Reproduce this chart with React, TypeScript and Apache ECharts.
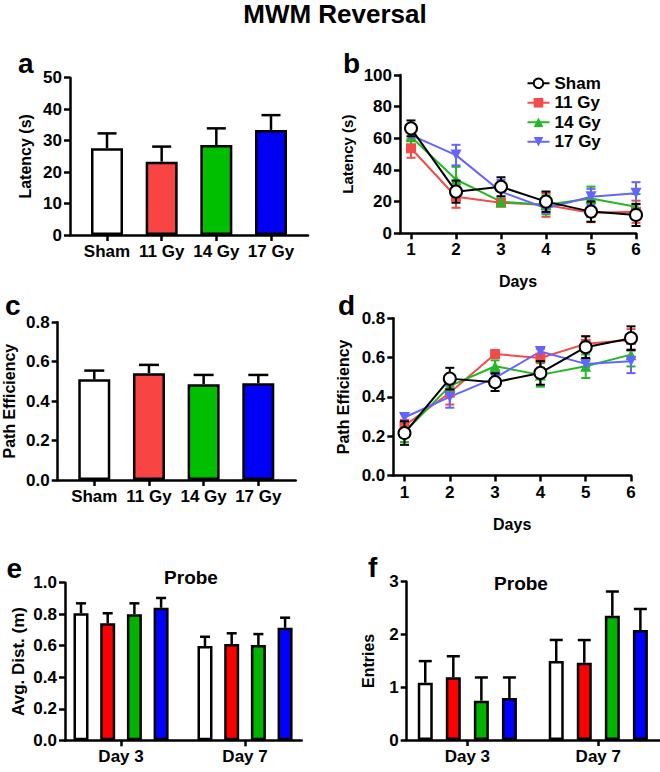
import React, { useEffect, useRef } from 'react';
import * as echarts from 'echarts';

const FONT = '"Liberation Sans", Arial, Helvetica, sans-serif';

// ---------- data ----------
const groups = ['Sham', '11 Gy', '14 Gy', '17 Gy'];
const probeDays = ['Day 3', 'Day 7'];
const days = [1, 2, 3, 4, 5, 6];

const barColorsAC = ['#FFFFFF', '#F94444', '#00BE00', '#0000F4'];
const barColorsEF = ['#FFFFFF', '#FF0000', '#00B400', '#0000FF'];
const lineColors = ['#000000', '#F54A4A', '#22B922', '#6464FF'];

// a: latency (s), mean and SEM per group
const latencyMean = [27.6, 23.3, 28.6, 33.4];
const latencySem = [4.7, 4.8, 5.3, 4.7];

// c: path efficiency per group
const pathEffMean = [0.511, 0.542, 0.486, 0.491];
const pathEffSem = [0.044, 0.042, 0.047, 0.042];

// b: latency by day
const latShamMean = [66.3, 26.3, 29.4, 20.0, 13.7, 11.6];
const latShamSem = [5.0, 7.0, 6.0, 6.4, 6.4, 7.0];
const lat11Mean = [53.7, 23.1, 19.3, 17.9, 13.0, 13.6];
const lat11Sem = [6.0, 7.0, 2.0, 7.5, 6.0, 7.0];
const lat14Mean = [61.0, 34.0, 20.0, 18.0, 22.0, 16.8];
const lat14Sem = [8.0, 8.0, 2.0, 6.0, 7.5, 8.0];
const lat17Mean = [62.0, 49.4, 26.3, 15.8, 23.1, 25.3];
const lat17Sem = [3.0, 6.5, 7.5, 3.0, 5.0, 7.0];

// d: path efficiency by day
const peShamMean = [0.216, 0.493, 0.475, 0.522, 0.653, 0.699];
const peShamSem = [0.06, 0.055, 0.045, 0.06, 0.055, 0.06];
const pe11Mean = [0.253, 0.421, 0.618, 0.598, 0.67, 0.69];
const pe11Sem = [0.03, 0.06, 0.02, 0.05, 0.04, 0.055];
const pe14Mean = [0.22, 0.455, 0.556, 0.512, 0.556, 0.615];
const pe14Sem = [0.05, 0.045, 0.03, 0.06, 0.06, 0.06];
const pe17Mean = [0.295, 0.4, 0.497, 0.631, 0.568, 0.581];
const pe17Sem = [0.02, 0.055, 0.04, 0.015, 0.015, 0.06];

// e: probe avg. distance (m): [Day 3, Day 7] per group
const distSham = [0.806, 0.598];
const distShamSem = [0.063, 0.059];
const dist11 = [0.742, 0.611];
const dist11Sem = [0.064, 0.068];
const dist14 = [0.8, 0.605];
const dist14Sem = [0.069, 0.069];
const dist17 = [0.841, 0.714];
const dist17Sem = [0.062, 0.064];

// f: probe entries: [Day 3, Day 7] per group
const entSham = [1.085, 1.496];
const entShamSem = [0.41, 0.4];
const ent11 = [1.187, 1.464];
const ent11Sem = [0.4, 0.43];
const ent14 = [0.745, 2.354];
const ent14Sem = [0.44, 0.46];
const ent17 = [0.795, 2.083];
const ent17Sem = [0.39, 0.4];

// ---------- helpers ----------
const black = '#000';
const AXIS_W = 2.5;

const axisLine = { show: true, onZero: false, lineStyle: { color: black, width: AXIS_W } };
const tickBase = { show: true, length: 6, lineStyle: { color: black, width: AXIS_W } };
const labelBase = { color: black, fontSize: 17, fontWeight: 'bold', fontFamily: FONT, margin: 8 };
const nameStyle = (size: number) => ({ color: black, fontSize: size, fontWeight: 'bold', fontFamily: FONT });

function upErr(cap: number, offset: number, width = 2.5) {
  return (params: any, api: any) => {
    const x = api.value(0);
    const m = api.value(1);
    const s = api.value(2);
    const p0 = api.coord([x, m]);
    const p1 = api.coord([x, m + s]);
    const cx = p0[0] + offset;
    const style = { stroke: black, lineWidth: width, fill: null };
    return {
      type: 'group',
      children: [
        { type: 'line', shape: { x1: cx, y1: p0[1], x2: cx, y2: p1[1] }, style },
        { type: 'line', shape: { x1: cx - cap / 2, y1: p1[1], x2: cx + cap / 2, y2: p1[1] }, style },
      ],
    };
  };
}

function bothErr(cap: number, color: string) {
  return (params: any, api: any) => {
    const x = api.value(0);
    const m = api.value(1);
    const s = api.value(2);
    const p1 = api.coord([x, m + s]);
    const p2 = api.coord([x, m - s]);
    const style = { stroke: color, lineWidth: 2, fill: null };
    return {
      type: 'group',
      children: [
        { type: 'line', shape: { x1: p1[0], y1: p1[1], x2: p2[0], y2: p2[1] }, style },
        { type: 'line', shape: { x1: p1[0] - cap / 2, y1: p1[1], x2: p1[0] + cap / 2, y2: p1[1] }, style },
        { type: 'line', shape: { x1: p2[0] - cap / 2, y1: p2[1], x2: p2[0] + cap / 2, y2: p2[1] }, style },
      ],
    };
  };
}

function catXAxis(grid: number, min: number, max: number, vals: number[], names: string[]) {
  return {
    gridIndex: grid,
    type: 'value',
    min,
    max,
    axisLine,
    axisTick: { ...tickBase, customValues: vals },
    axisLabel: { ...labelBase, customValues: vals, formatter: (v: number) => names[Math.round(v)] },
    splitLine: { show: false },
  };
}

function dayXAxis(grid: number, min: number, gap: number) {
  return {
    gridIndex: grid,
    type: 'value',
    min,
    max: 6,
    name: 'Days',
    nameLocation: 'middle',
    nameGap: gap,
    nameTextStyle: nameStyle(16),
    axisLine,
    axisTick: { ...tickBase, customValues: days },
    axisLabel: { ...labelBase, customValues: days, formatter: (v: number) => String(Math.round(v)) },
    splitLine: { show: false },
  };
}

function yAx(grid: number, max: number, interval: number, name: string, gap: number, size: number, dec: number) {
  return {
    gridIndex: grid,
    type: 'value',
    min: 0,
    max,
    interval,
    name,
    nameLocation: 'middle',
    nameRotate: 90,
    nameGap: gap,
    nameTextStyle: nameStyle(size),
    axisLine,
    axisTick: tickBase,
    axisLabel: { ...labelBase, formatter: (v: number) => v.toFixed(dec) },
    splitLine: { show: false },
  };
}

export default function App() {
  const ref = useRef<HTMLDivElement>(null);

  useEffect(() => {
    document.body.style.margin = '0';
    const chart = echarts.init(ref.current!, null, { renderer: 'svg' });

    const grids = [
      { left: 70, top: 77.7, width: 238, height: 157.3 }, // a
      { left: 400, top: 75, width: 236, height: 158.3 }, // b
      { left: 57.7, top: 322.3, width: 238, height: 157.7 }, // c
      { left: 393.3, top: 318.3, width: 237.7, height: 157.2 }, // d
      { left: 65, top: 582.7, width: 236.7, height: 157.6 }, // e
      { left: 406.7, top: 581.7, width: 253.3, height: 158.3 }, // f
    ].map((g) => ({ ...g, containLabel: false, outerBoundsMode: 'none' }));

    const xAxis = [
      catXAxis(0, -0.677, 3.677, [0, 1, 2, 3], groups),
      dayXAxis(1, 0.7556, 40),
      catXAxis(2, -0.669, 3.684, [0, 1, 2, 3], groups),
      dayXAxis(3, 0.753, 41),
      catXAxis(4, -0.452, 1.457, [0, 1], probeDays),
      catXAxis(5, -0.463, 1.471, [0, 1], probeDays),
    ];

    const yAxis = [
      yAx(0, 50, 10, 'Latency (s)', 37, 16, 0),
      yAx(1, 100, 20, 'Latency (s)', 45, 15, 0),
      yAx(2, 0.8, 0.2, 'Path Efficiency', 40, 16, 1),
      yAx(3, 0.8, 0.2, 'Path Efficiency', 41.5, 16, 1),
      yAx(4, 1.0, 0.2, 'Avg. Dist. (m)', 38, 17, 1),
      yAx(5, 3, 1, 'Entries', 30, 16, 0),
    ];

    const series: any[] = [];

    // ---- a & c: single-group bars ----
    const singleBars = (grid: number, mean: number[], sem: number[], key: string, cap: number) => {
      series.push({
        type: 'bar',
        name: key + '-bars',
        xAxisIndex: grid,
        yAxisIndex: grid,
        barWidth: 32,
        data: mean.map((v, i) => ({ value: [i, v], itemStyle: { color: barColorsAC[i] } })),
        itemStyle: { borderColor: black, borderWidth: 2.5 },
        z: 3,
      });
      series.push({
        type: 'custom',
        name: key + '-err',
        xAxisIndex: grid,
        yAxisIndex: grid,
        renderItem: upErr(cap, 0),
        data: mean.map((v, i) => [i, v, sem[i]]),
        encode: { x: 0, y: 1 },
        clip: false,
        z: 2,
      });
    };
    singleBars(0, latencyMean, latencySem, 'a', 19);
    singleBars(2, pathEffMean, pathEffSem, 'c', 20);

    // ---- b & d: lines ----
    const symbols = ['circle', 'rect', 'triangle', 'triangle'];
    const symSizes = [12, 10, 11, 11];
    const lineSets = (grid: number, means: number[][], sems: number[][], prefix: string) => {
      means.forEach((m, k) => {
        const color = lineColors[k];
        series.push({
          type: 'custom',
          name: prefix + groups[k] + '-err',
          xAxisIndex: grid,
          yAxisIndex: grid,
          renderItem: bothErr(9, color),
          data: m.map((v, i) => [days[i], v, sems[k][i]]),
          encode: { x: 0, y: 1 },
          clip: false,
          z: k === 0 ? 4 : 2,
        });
        series.push({
          type: 'line',
          name: prefix + groups[k],
          xAxisIndex: grid,
          yAxisIndex: grid,
          data: m.map((v, i) => [days[i], v]),
          symbol: symbols[k],
          symbolSize: symSizes[k],
          symbolRotate: k === 3 ? 180 : 0,
          lineStyle: { color, width: 2 },
          itemStyle:
            k === 0
              ? { color: '#FFFFFF', borderColor: black, borderWidth: 2 }
              : { color, borderColor: color, borderWidth: 0 },
          showAllSymbol: true,
          z: k === 0 ? 5 : 3,
        });
      });
    };
    lineSets(1, [latShamMean, lat11Mean, lat14Mean, lat17Mean], [latShamSem, lat11Sem, lat14Sem, lat17Sem], '');
    lineSets(3, [peShamMean, pe11Mean, pe14Mean, pe17Mean], [peShamSem, pe11Sem, pe14Sem, pe17Sem], 'd-');

    // ---- e & f: grouped bars ----
    const groupedBars = (grid: number, means: number[][], sems: number[][], prefix: string, gapPct: number, cap: number) => {
      const bw = 15;
      const spacing = bw * (1 + gapPct / 100);
      means.forEach((m, k) => {
        series.push({
          type: 'bar',
          name: prefix + groups[k],
          xAxisIndex: grid,
          yAxisIndex: grid,
          barWidth: bw,
          barGap: gapPct + '%',
          data: m.map((v, i) => [i, v]),
          itemStyle: { color: barColorsEF[k], borderColor: black, borderWidth: 2.5 },
          z: 3,
        });
      });
      means.forEach((m, k) => {
        series.push({
          type: 'custom',
          name: prefix + groups[k] + '-err',
          xAxisIndex: grid,
          yAxisIndex: grid,
          renderItem: upErr(cap, (k - 1.5) * spacing),
          data: m.map((v, i) => [i, v, sems[k][i]]),
          encode: { x: 0, y: 1 },
          clip: false,
          z: 2,
        });
      });
    };
    groupedBars(4, [distSham, dist11, dist14, dist17], [distShamSem, dist11Sem, dist14Sem, dist17Sem], 'e-', 78, 10);
    groupedBars(5, [entSham, ent11, ent14, ent17], [entShamSem, ent11Sem, ent14Sem, ent17Sem], 'f-', 87, 13);

    const txt = (text: string, x: number, y: number, size: number, align = 'left') => ({
      type: 'text',
      x,
      y,
      style: {
        text,
        fill: black,
        font: `bold ${size}px ${FONT}`,
        textAlign: align,
        textVerticalAlign: 'middle',
      },
    });

    chart.setOption({
      animation: false,
      backgroundColor: '#FFFFFF',
      textStyle: { fontFamily: FONT },
      grid: grids,
      xAxis,
      yAxis,
      legend: {
        data: groups,
        orient: 'vertical',
        left: 526.5,
        top: 73.5,
        padding: 0,
        itemWidth: 22,
        itemHeight: 12,
        itemGap: 0,
        selectedMode: false,
        textStyle: { color: black, fontSize: 17, fontWeight: 'bold', fontFamily: FONT, lineHeight: 19.5 },
      },
      graphic: [
        txt('MWM Reversal', 335, 14, 26, 'center'),
        txt('a', 18, 63.5, 28),
        txt('b', 343, 63.5, 28),
        txt('c', 5, 305, 28),
        txt('d', 338, 305, 28),
        txt('e', 6.5, 568, 28),
        txt('f', 368, 567, 28),
        txt('Probe', 191, 577.5, 19, 'center'),
        txt('Probe', 521, 583, 19, 'center'),
      ],
      series,
    });

    return () => chart.dispose();
  }, []);

  return (
    <div
      ref={ref}
      style={{ position: 'absolute', left: 0, top: 0, width: 660, height: 772, background: '#fff' }}
    />
  );
}
